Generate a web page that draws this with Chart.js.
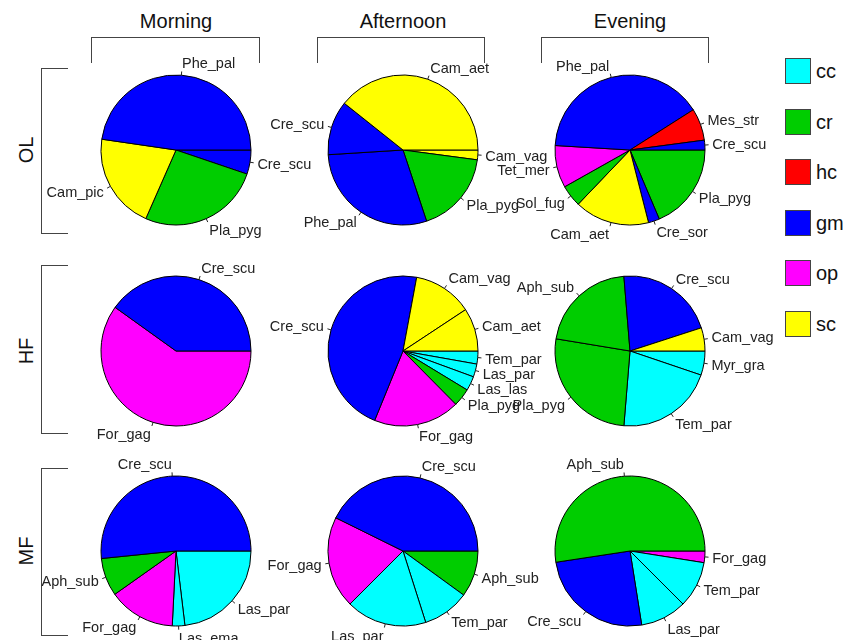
<!DOCTYPE html>
<html>
<head>
<meta charset="utf-8">
<script src="https://cdn.jsdelivr.net/npm/chart.js@4.4.0/dist/chart.umd.min.js"></script>
<style>
body { margin: 0; background: #fff; font-family: "Liberation Sans", Arial, sans-serif; }
#wrap { position: relative; width: 844px; height: 640px; overflow: hidden; }
.ttl { position: absolute; font-size: 20px; color: #111; transform: translateX(-50%); white-space: nowrap; }
.brkTop { position: absolute; top: 37px; height: 25px; border: 1.5px solid #444; border-bottom: none; }
.brkSide { position: absolute; left: 41px; width: 26px; border: 1.5px solid #444; border-right: none; }
.rowTtl { position: absolute; left: 26px; font-size: 20px; color: #111; transform: translate(-50%, -50%) rotate(-90deg); }
.pie { position: absolute; }
.key { position: absolute; left: 785px; width: 24px; height: 24px; border: 1.5px solid #444; }
.keyTxt { position: absolute; left: 816px; font-size: 20px; color: #111; transform: translateY(-50%); }
</style>
</head>
<body>
<div id="wrap"></div>
<script>
// groupes (légende) et couleurs
var grupos = ['cc', 'cr', 'hc', 'gm', 'op', 'sc']
var coresGrupos = ['#00FFFF', '#00CD00', '#FF0000', '#0000FF', '#FF00FF', '#FFFF00']

var periodos = ['Morning', 'Afternoon', 'Evening']
var habitats = ['OL', 'HF', 'MF']

// OL
var olMorningLabels = ['Phe_pal', 'Cam_pic', 'Pla_pyg', 'Cre_scu']
var olMorningValues = [47.7, 20.7, 26.4, 5.2]
var olMorningGroups = ['gm', 'sc', 'cr', 'gm']

var olAfternoonLabels = ['Cam_aet', 'Cre_scu', 'Phe_pal', 'Pla_pyg', 'Cam_vag']
var olAfternoonValues = [39.3, 11.7, 29.1, 17.8, 2.1]
var olAfternoonGroups = ['sc', 'gm', 'gm', 'cr', 'sc']

var olEveningLabels = ['Cre_scu', 'Mes_str', 'Phe_pal', 'Tet_mer', 'Sol_fug', 'Cam_aet', 'Cre_sor', 'Pla_pyg']
var olEveningValues = [2.1, 6.9, 40.0, 9.1, 4.7, 16.1, 2.4, 18.6]
var olEveningGroups = ['gm', 'hc', 'gm', 'op', 'cr', 'sc', 'gm', 'cr']

// HF
var hfMorningLabels = ['Cre_scu', 'For_gag']
var hfMorningValues = [40.1, 59.9]
var hfMorningGroups = ['gm', 'op']

var hfAfternoonLabels = ['Cam_aet', 'Cam_vag', 'Cre_scu', 'For_gag', 'Pla_pyg', 'Las_las', 'Las_par', 'Tem_par']
var hfAfternoonValues = [9.3, 12.8, 46.8, 18.6, 3.9, 3.1, 2.8, 2.8]
var hfAfternoonGroups = ['sc', 'sc', 'gm', 'op', 'cr', 'cc', 'cc', 'cc']

var hfEveningLabels = ['Cam_vag', 'Cre_scu', 'Aph_sub', 'Pla_pyg', 'Tem_par', 'Myr_gra']
var hfEveningValues = [5.0, 21.3, 21.1, 26.3, 21.1, 5.2]
var hfEveningGroups = ['sc', 'gm', 'cr', 'cr', 'cc', 'cc']

// MF
var mfMorningLabels = ['Cre_scu', 'Aph_sub', 'For_gag', 'Las_ema', 'Las_par']
var mfMorningValues = [51.6, 8.2, 14.4, 2.7, 23.1]
var mfMorningGroups = ['gm', 'cr', 'op', 'cc', 'cc']

var mfAfternoonLabels = ['Cre_scu', 'For_gag', 'Las_par', 'Tem_par', 'Aph_sub']
var mfAfternoonValues = [42.7, 19.8, 17.4, 10.1, 10.0]
var mfAfternoonGroups = ['gm', 'op', 'cc', 'cc', 'cr']

var mfEveningLabels = ['Aph_sub', 'Cre_scu', 'Las_par', 'Tem_par', 'For_gag']
var mfEveningValues = [52.4, 25.1, 10.0, 10.0, 2.5]
var mfEveningGroups = ['cr', 'gm', 'cc', 'cc', 'op']

var pizzas = [
    [olMorningLabels, olMorningValues, olMorningGroups],
    [olAfternoonLabels, olAfternoonValues, olAfternoonGroups],
    [olEveningLabels, olEveningValues, olEveningGroups],
    [hfMorningLabels, hfMorningValues, hfMorningGroups],
    [hfAfternoonLabels, hfAfternoonValues, hfAfternoonGroups],
    [hfEveningLabels, hfEveningValues, hfEveningGroups],
    [mfMorningLabels, mfMorningValues, mfMorningGroups],
    [mfAfternoonLabels, mfAfternoonValues, mfAfternoonGroups],
    [mfEveningLabels, mfEveningValues, mfEveningGroups]
]

// centros das pizzas
var colX = [176, 403, 630]
var linhaY = [150, 351, 551]
var bracketTop = [[91, 258], [317, 483], [541, 707]]
var bracketSide = [[68, 232], [265, 432], [468, 634]]

var wrap = document.getElementById('wrap')

function addDiv(cls, css, texto) {
    var d = document.createElement('div')
    d.className = cls
    d.style.cssText = css
    if (texto) d.textContent = texto
    wrap.appendChild(d)
    return d
}

for (var i = 0; i < 3; i++) {
    addDiv('ttl', 'left:' + colX[i] + 'px; top:10px;', periodos[i])
    addDiv('brkTop', 'left:' + bracketTop[i][0] + 'px; width:' + (bracketTop[i][1] - bracketTop[i][0]) + 'px;')
    addDiv('brkSide', 'top:' + bracketSide[i][0] + 'px; height:' + (bracketSide[i][1] - bracketSide[i][0]) + 'px;')
    addDiv('rowTtl', 'top:' + linhaY[i] + 'px;', habitats[i])
}

// legenda
for (var i = 0; i < grupos.length; i++) {
    var y = 71 + i * 50.6
    addDiv('key', 'top:' + (y - 13) + 'px; background:' + coresGrupos[i] + ';')
    addDiv('keyTxt', 'top:' + y + 'px;', grupos[i])
}

// rótulos no estilo do pie() do R: traço de 1.0 a 1.05 r, texto a 1.1 r
// (na vertical o texto fica um pouco mais afastado, como na figura)
const rotulosPizza = {
    id: 'rotulosPizza',
    afterDatasetsDraw(chart) {
        const ctx = chart.ctx
        const meta = chart.getDatasetMeta(0)
        ctx.save()
        ctx.font = '14.5px "Liberation Sans", Arial, sans-serif'
        ctx.fillStyle = '#222'
        ctx.strokeStyle = '#222'
        ctx.lineWidth = 1
        ctx.textBaseline = 'middle'
        meta.data.forEach((arc, k) => {
            const p = arc.getProps(['x', 'y', 'startAngle', 'endAngle', 'outerRadius'], true)
            const meio = (p.startAngle + p.endAngle) / 2
            const c = Math.cos(meio), s = Math.sin(meio)
            const r = p.outerRadius
            ctx.beginPath()
            ctx.moveTo(p.x + c * r, p.y + s * r)
            ctx.lineTo(p.x + c * r * 1.05, p.y + s * r * 1.05)
            ctx.stroke()
            ctx.textAlign = c < 0 ? 'right' : 'left'
            ctx.fillText(chart.data.labels[k], p.x + c * r * 1.1, p.y + s * r * 1.16 + 1)
        })
        ctx.restore()
    }
}

var W = 300, H = 230
pizzas.forEach((pz, n) => {
    var cx = colX[n % 3], cy = linhaY[Math.floor(n / 3)]
    var cv = document.createElement('canvas')
    cv.className = 'pie'
    cv.width = W
    cv.height = H
    cv.style.left = (cx - W / 2) + 'px'
    cv.style.top = (cy - H / 2) + 'px'
    wrap.appendChild(cv)

    // o R desenha anti-horário a partir das 3h; o Chart.js é horário -> inverte a ordem
    var labels = pz[0].slice().reverse()
    var valores = pz[1].slice().reverse()
    var cores = pz[2].slice().reverse().map(g => coresGrupos[grupos.indexOf(g)])

    new Chart(cv.getContext('2d'), {
        type: 'pie',
        data: {
            labels: labels,
            datasets: [{
                data: valores,
                backgroundColor: cores,
                borderColor: '#000',
                borderWidth: 1,
                radius: 75
            }]
        },
        options: {
            responsive: false,
            animation: false,
            rotation: 90,
            layout: { padding: 0 },
            plugins: {
                legend: { display: false },
                tooltip: { enabled: false }
            }
        },
        plugins: [rotulosPizza]
    })
})
</script>
</body>
</html>
